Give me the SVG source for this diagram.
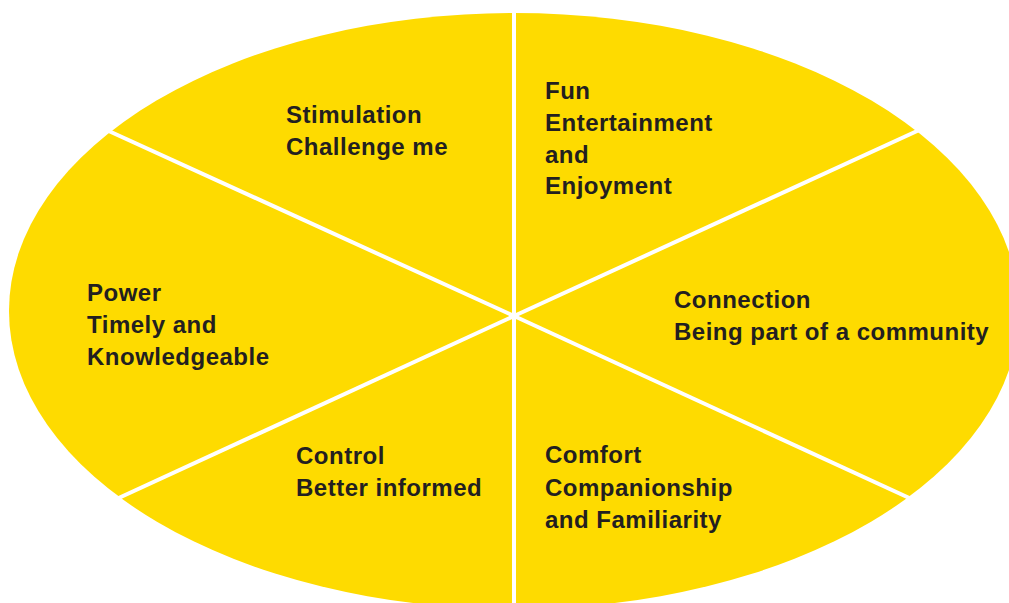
<svg xmlns="http://www.w3.org/2000/svg" width="1009" height="603" viewBox="0 0 1009 603">
  <style>
    .disc { fill: #FEDB00; }
    .divider { stroke: #FFFFFF; stroke-width: 4; fill: none; }
    .label { font-family: "Liberation Sans", Arial, sans-serif; font-weight: bold; font-size: 24px; letter-spacing: 0.5px; fill: #231F20; }
  </style>
  <rect width="1009" height="603" fill="#FFFFFF"/>

  <!-- yellow oval -->
  <ellipse class="disc" cx="514" cy="311" rx="505" ry="298"/>

  <!-- six-way dividers meeting at the hub -->
  <g id="connectors">
    <line class="divider" x1="514" y1="0" x2="514" y2="603"/>
    <line class="divider" x1="514" y1="316" x2="100" y2="127"/>
    <line class="divider" x1="514" y1="316" x2="928" y2="126"/>
    <line class="divider" x1="514" y1="316" x2="110" y2="502"/>
    <line class="divider" x1="514" y1="316" x2="918" y2="502"/>
  </g>

  <g id="stimulation">
    <text class="label" x="286" y="123">Stimulation</text>
    <text class="label" x="286" y="155">Challenge me</text>
  </g>

  <g id="fun">
    <text class="label" x="545" y="99">Fun</text>
    <text class="label" x="545" y="131">Entertainment</text>
    <text class="label" x="545" y="163">and</text>
    <text class="label" x="545" y="194">Enjoyment</text>
  </g>

  <g id="power">
    <text class="label" x="87" y="301">Power</text>
    <text class="label" x="87" y="333">Timely and</text>
    <text class="label" x="87" y="365">Knowledgeable</text>
  </g>

  <g id="connection">
    <text class="label" x="674" y="308">Connection</text>
    <text class="label" x="674" y="340">Being part of a community</text>
  </g>

  <g id="control">
    <text class="label" x="296" y="464">Control</text>
    <text class="label" x="296" y="496">Better informed</text>
  </g>

  <g id="comfort">
    <text class="label" x="545" y="463">Comfort</text>
    <text class="label" x="545" y="496">Companionship</text>
    <text class="label" x="545" y="528">and Familiarity</text>
  </g>
</svg>
